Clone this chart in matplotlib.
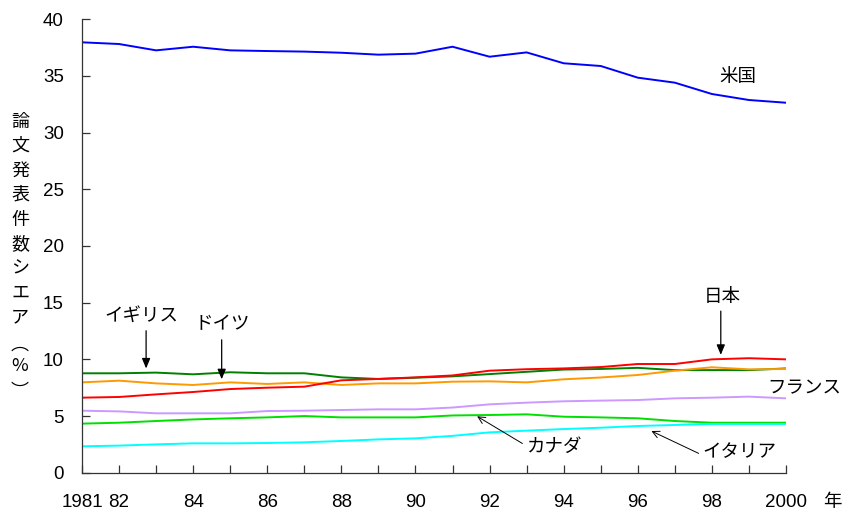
import matplotlib
matplotlib.use("Agg")
import matplotlib.pyplot as plt
import numpy as np

plt.rcParams['font.family'] = ['Liberation Sans', 'Noto Sans CJK JP', 'DejaVu Sans']

years = list(range(1981, 2001))
usa = [37.97, 37.82, 37.26, 37.58, 37.26, 37.20, 37.15, 37.05, 36.88, 36.97,
       37.58, 36.70, 37.08, 36.12, 35.88, 34.85, 34.41, 33.41, 32.88, 32.64]
uk = [8.77, 8.77, 8.83, 8.68, 8.86, 8.77, 8.77, 8.41, 8.27, 8.38,
      8.50, 8.70, 8.90, 9.10, 9.15, 9.25, 9.05, 9.05, 9.05, 9.20]
germany = [7.97, 8.12, 7.88, 7.74, 7.97, 7.83, 7.97, 7.74, 7.88, 7.88,
           8.03, 8.06, 7.97, 8.24, 8.40, 8.62, 9.00, 9.30, 9.12, 9.15]
japan = [6.62, 6.68, 6.91, 7.12, 7.38, 7.50, 7.59, 8.15, 8.27, 8.41,
         8.58, 9.00, 9.13, 9.20, 9.32, 9.59, 9.59, 10.00, 10.10, 10.00]
france = [5.47, 5.41, 5.24, 5.24, 5.24, 5.44, 5.47, 5.53, 5.59, 5.59,
          5.75, 6.03, 6.18, 6.30, 6.36, 6.41, 6.56, 6.62, 6.71, 6.56]
canada = [4.33, 4.41, 4.56, 4.70, 4.80, 4.88, 5.00, 4.88, 4.88, 4.88,
          5.05, 5.09, 5.15, 4.94, 4.88, 4.80, 4.56, 4.41, 4.41, 4.41]
italy = [2.33, 2.39, 2.50, 2.59, 2.59, 2.62, 2.68, 2.80, 2.94, 3.03,
         3.25, 3.56, 3.71, 3.85, 3.97, 4.12, 4.21, 4.30, 4.30, 4.30]

xtick_labels = {1981: '1981', 1982: '82', 1984: '84', 1986: '86', 1988: '88',
                1990: '90', 1992: '92', 1994: '94', 1996: '96', 1998: '98', 2000: '2000'}
ylabel_chars = ['論', '文', '発', '表', '件', '数', 'シ', 'エ', 'ア', '︵', '%', '︶']

W, H = 846, 513
fig = plt.figure(figsize=(W / 100, H / 100), dpi=100)
ax = fig.add_axes([82 / W, (H - 472.7) / H, 704 / W, 453.4 / H])

series = [
    (usa, '#0000FF'),
    (uk, '#007F00'),
    (germany, '#FF9900'),
    (japan, '#FF0000'),
    (france, '#CC99FF'),
    (canada, '#00E000'),
    (italy, '#00FFFF'),
]
for vals, col in series:
    ax.plot(years, vals, color=col, lw=1.4, solid_joinstyle='round')

ax.set_xlim(1981, 2000)
ax.set_ylim(0, 40)
ax.set_yticks(np.arange(0, 41, 5))
ax.set_xticks(years)
ax.set_xticklabels([xtick_labels.get(y, '') for y in years])
for s in ['top', 'right']:
    ax.spines[s].set_visible(False)
for s in ['left', 'bottom']:
    ax.spines[s].set_color('#333333')
    ax.spines[s].set_linewidth(0.9)
ax.tick_params(axis='x', direction='in', length=6, width=0.9, color='#333333',
               labelsize=13.5, pad=15)
ax.tick_params(axis='y', direction='in', length=6, width=0.9, color='#333333',
               labelsize=13.5, pad=13)

jfs = 13.3
ax.text(1998.7, 34.9, '米国', fontsize=jfs, ha='center', va='center')

ax.text(1982.6, 13.8, 'イギリス', fontsize=jfs, ha='center', va='center')
ax.annotate('', xy=(1982.73, 8.95), xytext=(1982.73, 12.77),
            arrowprops=dict(arrowstyle='-|>,head_length=0.6,head_width=0.25',
                            color='black', lw=0.9))
ax.text(1984.78, 13.05, 'ドイツ', fontsize=jfs, ha='center', va='center')
ax.annotate('', xy=(1984.77, 8.0), xytext=(1984.77, 11.97),
            arrowprops=dict(arrowstyle='-|>,head_length=0.6,head_width=0.25',
                            color='black', lw=0.9))
ax.text(1998.27, 15.5, '日本', fontsize=jfs, ha='center', va='center')
ax.annotate('', xy=(1998.24, 10.15), xytext=(1998.24, 14.5),
            arrowprops=dict(arrowstyle='-|>,head_length=0.6,head_width=0.25',
                            color='black', lw=0.9))
ax.text(2001.5, 7.38, 'フランス', fontsize=jfs, ha='right', va='center', clip_on=False)

ax.text(1993.0, 2.27, 'カナダ', fontsize=jfs, ha='left', va='center')
ax.annotate('', xy=(1991.6, 5.1), xytext=(1992.95, 2.45),
            arrowprops=dict(arrowstyle='->,head_length=0.5,head_width=0.25',
                            color='black', lw=0.7))
ax.text(1997.75, 1.74, 'イタリア', fontsize=jfs, ha='left', va='center')
ax.annotate('', xy=(1996.3, 3.78), xytext=(1997.71, 1.6),
            arrowprops=dict(arrowstyle='->,head_length=0.5,head_width=0.25',
                            color='black', lw=0.7))

fig.text(832 / W, 1 - 503 / H, '年', fontsize=jfs, ha='center', va='center')

ys = [122, 146, 171, 195, 220, 244, 268, 293, 317, 345, 366, 392]
for ch, yp in zip(ylabel_chars, ys):
    fig.text(20 / W, 1 - yp / H, ch, fontsize=13, ha='center', va='center',
             family=['Noto Sans CJK JP', 'DejaVu Sans'])

fig.savefig('out.png', dpi=100)
